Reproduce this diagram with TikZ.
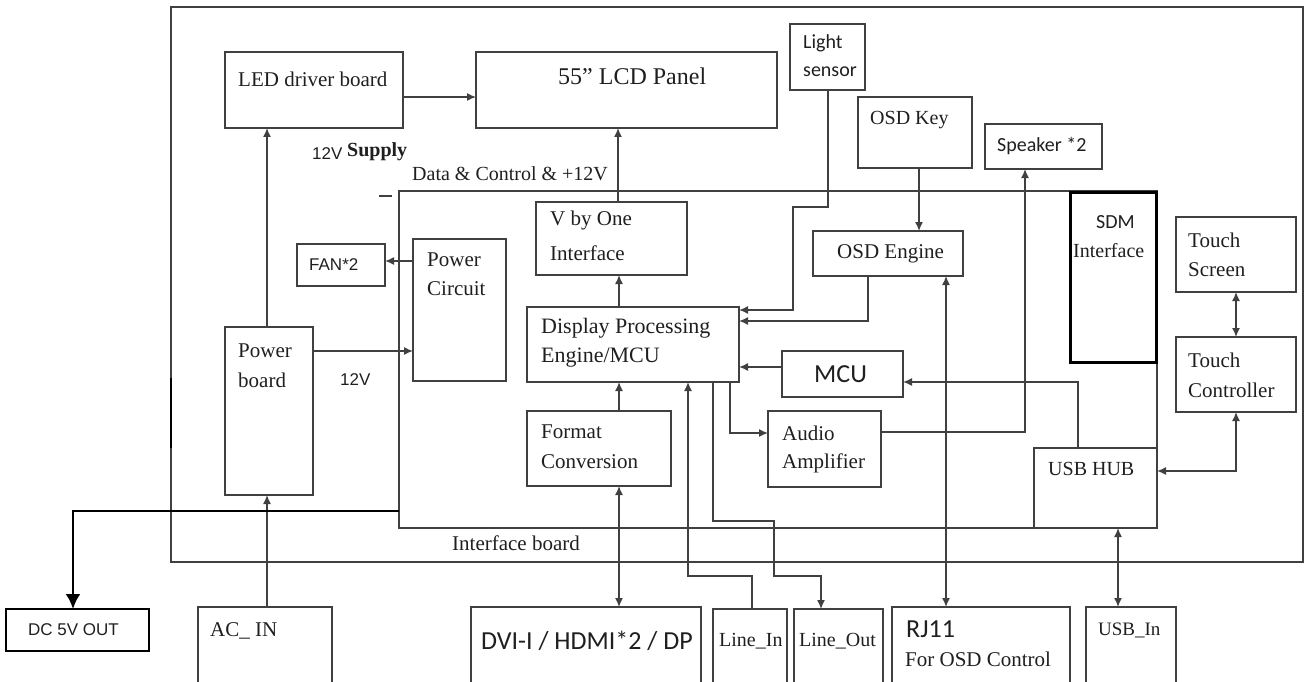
\documentclass[tikz,border=0pt]{standalone}
\usepackage{fontspec}
\setmainfont{Liberation Serif}
\newfontfamily\calfont{Carlito}
\newfontfamily\arialfont{Liberation Sans}
\usetikzlibrary{arrows.meta}
\tikzset{
  ln/.style={draw=black!75, line width=1.5pt},
  box/.style={ln, rectangle, inner sep=0pt, outer sep=0pt},
  thickbox/.style={box, draw=black, line width=3pt},
  arr/.style={ln, -{Latex[length=9pt,width=8pt]}},
  dbl/.style={ln, {Latex[length=9pt,width=8pt]}-{Latex[length=9pt,width=8pt]}},
  bigarr/.style={draw=black, line width=2.5pt, -{Latex[length=15pt,width=15pt]}},
  tx/.style={inner sep=0pt, anchor=west, text=black!88, font=\fontsize{21}{24}\selectfont},
  txs/.style={tx, font=\fontsize{20}{23}\selectfont},
  txc/.style={tx, font=\calfont\fontsize{20}{23}\selectfont},
  txcb/.style={tx, font=\calfont\fontsize{26}{29}\selectfont},
  txa/.style={tx, font=\arialfont\fontsize{17}{20}\selectfont},
}
\newcommand{\mkbox}[6][]{\node[box,#1,minimum width={(#5)-(#3)},minimum height={(#6)-(#4)},anchor=north west] (#2) at (#3,#4) {};}
\begin{document}
\begin{tikzpicture}[x=1pt,y=-1pt]
\useasboundingbox (0,0) rectangle (1306,682);
% frames
\mkbox{outer}{171}{7}{1303}{562}
\draw[draw=black, line width=2pt] (outer.west |- 0,378) coordinate (segA) -- (outer.west |- 0,448) coordinate (segB);
\mkbox{ib}{399}{191}{1157}{528}
\draw[ln] (379,196) coordinate (dashA) -- (392,196) coordinate (dashB);
% boxes
\mkbox{led}{225}{52}{403}{128}
\mkbox{lcd}{476}{52}{777}{128}
\mkbox{light}{790}{24}{865}{90}
\mkbox{osdkey}{858}{97}{972}{168}
\mkbox{spk}{985}{124}{1102}{169}
\mkbox{fan}{297}{244}{385}{286}
\mkbox{pc}{413}{239}{506}{381}
\mkbox{vbo}{536}{202}{687}{275}
\mkbox{osde}{813}{231}{963}{276}
\mkbox[thickbox]{sdm}{1070}{192}{1156}{362}
\mkbox{ts}{1176}{217}{1296}{292}
\mkbox{tc}{1176}{337}{1296}{412}
\mkbox{dpe}{527}{307}{739}{382}
\mkbox{mcu}{782}{351}{903}{397}
\mkbox{pb}{225}{327}{313}{495}
\mkbox{fc}{527}{411}{671}{486}
\mkbox{aa}{768}{411}{881}{487}
\mkbox{hub}{1034}{448}{1157}{528}
\mkbox[draw=black,line width=2pt]{dc}{6}{609}{149}{651}
\mkbox{ac}{198}{607}{332}{692}
\mkbox{dvi}{471}{607}{701}{692}
\mkbox{lin}{713}{609}{787}{692}
\mkbox{lout}{794}{609}{883}{692}
\mkbox{rj}{892}{607}{1070}{692}
\mkbox{usbin}{1086}{607}{1176}{692}
% texts
\node[tx] (t-led) at (238,79) {LED driver board};
\node[tx, font=\fontsize{24}{27}\selectfont] (t-lcd) at (558,76) {55\textquotedblright\ LCD Panel};
\node[txc] (t-light1) at (803,43) {Light};
\node[txc] (t-light2) at (803,72) {sensor};
\node[txs] (t-osdkey) at (870,120) {OSD Key};
\node[txc] (t-spk) at (997,146) {Speaker *2};
\node[txc] (t-sdm1) at (1096,222) {SDM};
\node[txs] (t-sdm2) at (1073,251) {Interface};
\node[tx] (t-ts1) at (1188,240) {Touch};
\node[tx] (t-ts2) at (1188,270) {Screen};
\node[tx] (t-tc1) at (1188,360) {Touch};
\node[tx] (t-tc2) at (1188,390) {Controller};
\node[txa] (t-12a) at (312,154) {12V};
\node[tx, font=\bfseries\fontsize{20}{23}\selectfont] (t-sup) at (347,152) {Supply};
\node[txs] (t-data) at (412,174) {Data \& Control \& +12V};
\node[tx] (t-vbo1) at (550,220) {V by One};
\node[tx] (t-vbo2) at (550,253) {Interface};
\node[txa] (t-fan) at (309,265) {FAN*2};
\node[tx] (t-pc1) at (427,260) {Power};
\node[tx] (t-pc2) at (427,289) {Circuit};
\node[tx] (t-osde) at (837,254) {OSD Engine};
\node[tx, font=\fontsize{22}{25}\selectfont] (t-dpe1) at (541,328) {Display Processing};
\node[tx, font=\fontsize{22}{25}\selectfont] (t-dpe2) at (541,358) {Engine/MCU};
\node[txcb] (t-mcu) at (814,374) {MCU};
\node[tx] (t-pb1) at (238,351) {Power};
\node[tx] (t-pb2) at (238,380) {board};
\node[txa] (t-12b) at (340,380) {12V};
\node[tx] (t-fc1) at (541,432) {Format};
\node[tx] (t-fc2) at (541,462) {Conversion};
\node[tx] (t-aa1) at (782,433) {Audio};
\node[tx] (t-aa2) at (782,463) {Amplifier};
\node[txs] (t-hub) at (1048,469) {USB HUB};
\node[tx] (t-ib) at (452,543) {Interface board};
\node[txa] (t-dc) at (28,630) {DC 5V OUT};
\node[tx] (t-ac) at (210,631) {AC\_ IN};
\node[txcb] (t-dvi) at (481,641) {DVI-I / HDMI*2 / DP};
\node[txs] (t-lin) at (719,641) {Line\_In};
\node[txs] (t-lout) at (799,641) {Line\_Out};
\node[txcb] (t-rj1) at (906,629) {RJ11};
\node[tx] (t-rj2) at (905,659) {For OSD Control};
\node[tx, font=\fontsize{19}{22}\selectfont] (t-usbin) at (1098,630) {USB\_In};
% connectors
\draw[arr] (led.east |- 0,97) -- (lcd.west |- 0,97);
\draw[arr] (267,0 |- pb.north) -- (267,0 |- led.south);
\draw[arr] (267,0 |- ac.north) -- (267,0 |- pb.south);
\draw[arr] (pb.east |- 0,351) -- (pc.west |- 0,351);
\draw[arr] (pc.west |- 0,261) -- (fan.east |- 0,261);
\draw[bigarr] (ib.west |- 0,511) -| (73,0 |- dc.north);
\draw[arr] (619,0 |- dpe.north) -- (619,0 |- vbo.south);
\draw[arr] (618,0 |- vbo.north) -- (618,0 |- lcd.south);
\draw[arr] (619,0 |- fc.north) -- (619,0 |- dpe.south);
\draw[dbl] (619,0 |- dvi.north) -- (619,0 |- fc.south);
\draw[arr] (828,0 |- light.south) -- (828,207) -| (793,310) -- (dpe.east |- 0,310);
\draw[arr] (868,0 |- osde.south) |- (dpe.east |- 0,321);
\draw[arr] (919,0 |- osdkey.south) -- (919,0 |- osde.north);
\draw[arr] (mcu.west |- 0,367) -- (dpe.east |- 0,367);
\draw[arr] (1078,0 |- hub.north) |- (mcu.east |- 0,382);
\draw[arr] (730,0 |- dpe.south) |- (aa.west |- 0,433);
\draw[arr] (aa.east |- 0,432) -| (1025,0 |- spk.south);
\draw[arr] (752,0 |- lin.north) -- (752,576) -| (688,0 |- dpe.south);
\draw[arr] (713,0 |- dpe.south) -- (713,521) -| (774,576) -| (821,0 |- lout.north);
\draw[dbl] (946,0 |- rj.north) -- (946,0 |- osde.south);
\draw[dbl] (1118,0 |- usbin.north) -- (1118,0 |- hub.south);
\draw[dbl] (1236,0 |- tc.north) -- (1236,0 |- ts.south);
\draw[dbl] (1236,0 |- tc.south) |- (hub.east |- 0,471);
\end{tikzpicture}
\end{document}
